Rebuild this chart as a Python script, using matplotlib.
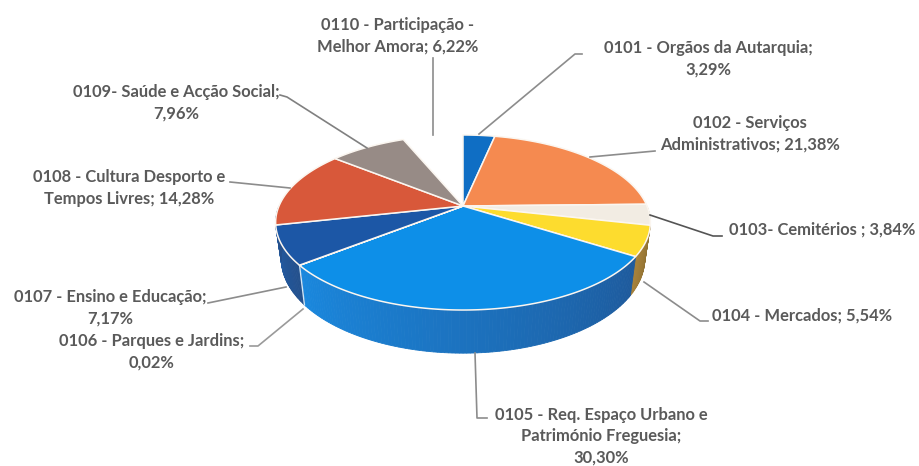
import numpy as np
import matplotlib
matplotlib.use("Agg")
import matplotlib.pyplot as plt
from matplotlib.patches import Polygon

labels = ["0101 - Orgãos da Autarquia;\n3,29%",
          "0102 - Serviços\nAdministrativos; 21,38%",
          "0103- Cemitérios ; 3,84%",
          "0104 - Mercados; 5,54%",
          "0105 - Req. Espaço Urbano e\nPatrimónio Freguesia;\n30,30%",
          "0106 - Parques e Jardins;\n0,02%",
          "0107 - Ensino e Educação;\n7,17%",
          "0108 - Cultura Desporto e\nTempos Livres; 14,28%",
          "0109- Saúde e Acção Social;\n7,96%",
          "0110 - Participação -\nMelhor Amora; 6,22%"]
values = [3.29, 21.38, 3.84, 5.54, 30.30, 0.02, 7.17, 14.28, 7.96, 6.22]
top_colors = ["#0f6ec4", "#f58a50", "#f2ece3", "#fddc2e", "#0d8fe8",
              "#1f5aa8", "#1c57a6", "#d8583a", "#978b86", "#ffffff"]
wall_light = ["#0f6ec4", "#b06a3c", "#b8b0a0", "#a8823a", "#1a88de",
              "#1f5aa8", "#225ca4", "#24508c", "#706860", "#ffffff"]
wall_dark = ["#0f6ec4", "#b06a3c", "#b8b0a0", "#8a6d30", "#1e5a9c",
             "#1f5aa8", "#24508c", "#24508c", "#706860", "#ffffff"]

label_pos = [(708, 59), (750, 134), (822, 230), (802, 316), (601, 436),
             (152, 352), (110, 308), (129, 188), (176, 103), (398, 36)]
leaders = [[(479, 134), (575, 54), (582, 54)],
           [(590, 157), (655, 151)],
           [(650, 215), (713, 236), (722, 236)],
           [(644, 282), (700, 321), (708, 321)],
           [(475, 353), (477, 418), (487, 418)],
           [(303, 309), (258, 346), (250, 346)],
           [(286, 287), (208, 303)],
           [(290, 188), (230, 182)],
           [(367, 148), (287, 97), (280, 95)],
           [(433, 135), (433, 58)]]
leader_colors = ["#8c8c8c", "#8c8c8c", "#555555", "#8c8c8c", "#8c8c8c",
                 "#9a9a9a", "#8c8c8c", "#8c8c8c", "#808080", "#8c8c8c"]

CX, CY, A, B, K, DEPTH = 463, 206, 184, 84.4, 0.1886, 35
FONT = "Lato"

def project(theta, r=1.0, lower=False):
    u, v = r * np.sin(theta), r * np.cos(theta)
    s = 1 / (1 + K * v)
    x = A * u * s * (0.97 if lower else 1.0)
    y = -B * v * s + (DEPTH * s if lower else 0)
    return CX + x, CY + y

fig = plt.figure(figsize=(9.19, 4.66), dpi=100)
ax = fig.add_axes([0, 0, 1, 1])
ax.set_xlim(0, 919)
ax.set_ylim(466, 0)
ax.axis("off")

edges = np.radians(np.concatenate([[0], np.cumsum(values)]) / sum(values) * 360)
spans = list(zip(edges[:-1], edges[1:]))

# side walls: only the front half of the disc shows one
for i, (t0, t1) in enumerate(spans):
    a0, a1 = max(t0, np.pi / 2), min(t1, 3 * np.pi / 2)
    if a1 <= a0 or top_colors[i] == "#ffffff":
        continue
    n = max(2, int((a1 - a0) * 60))
    th = np.linspace(a0, a1, n + 1)
    c0 = np.array(matplotlib.colors.to_rgb(wall_dark[i]))
    c1 = np.array(matplotlib.colors.to_rgb(wall_light[i]))
    for j in range(n):
        f = (j + 0.5) / n
        pts = [project(th[j]), project(th[j + 1]),
               project(th[j + 1], lower=True), project(th[j], lower=True)]
        ax.add_patch(Polygon(pts, closed=True, fc=c0 + (c1 - c0) * f,
                             ec=c0 + (c1 - c0) * f, lw=0.6, zorder=2))
    if i == 4:
        ax.plot(*zip(project(a1), project(a1, lower=True)), color="#cfe6f7",
                lw=1.0, zorder=3)

# top faces; the 0110 slice is blank in the reference
for i, (t0, t1) in enumerate(spans):
    if top_colors[i] == "#ffffff":
        continue
    th = np.linspace(t0, t1, max(2, int((t1 - t0) * 80)))
    pts = [(CX, CY)] + [project(t) for t in th]
    ax.add_patch(Polygon(pts, closed=True, fc=top_colors[i], ec="#fbf6f0",
                         lw=1.1, zorder=4, joinstyle="round"))

# labels and leader lines
for text, pos, line, lc in zip(labels, label_pos, leaders, leader_colors):
    ax.plot(*zip(*line), color=lc, lw=1.2, zorder=5, solid_joinstyle="round")
    ax.text(pos[0], pos[1], text, ha="center", va="center", family=FONT,
            fontsize=11.9, color="#5a5a5a", fontweight="bold",
            linespacing=1.42, zorder=6)

fig.savefig("out.png", dpi=100, facecolor="white")
